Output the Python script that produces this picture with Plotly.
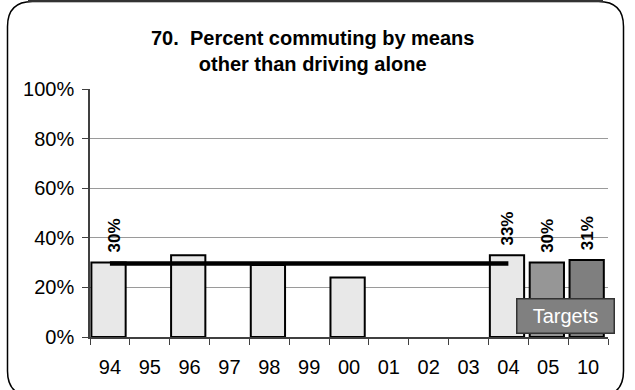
import plotly.graph_objects as go

years = ["94", "95", "96", "97", "98", "99", "00", "01", "02", "03", "04", "05", "10"]
actual = [30, None, 33, None, 29, None, 24, None, None, None, 33, None, None]
target_05 = [None] * 11 + [30, None]
target_10 = [None] * 12 + [31]
trend = [29.6, 29.6, 29.6, 29.6, 29.6, 29.6, 29.6, 29.6, 29.6, 29.6, 29.6, None, None]
label_years = ["94", "04", "05", "10"]
label_vals = [30, 33, 30, 31]
label_text = ["30%", "33%", "30%", "31%"]
title_text = "70.  Percent commuting by means<br>other than driving alone"
targets_text = "Targets"

W, H = 635, 390
L, R, T, B = 90, 27, 89, 53
PW, PH = W - L - R, H - T - B

def px(x):
    return (x - L) / PW

def py(y):
    return (H - B - y) / PH

FONT = "Liberation Sans, Arial, sans-serif"
fig = go.Figure()

bw, bo = 0.86, -0.465
fig.add_trace(go.Bar(x=years, y=actual, width=bw, offset=bo,
                     marker=dict(color="#e8e8e8", line=dict(color="#000000", width=2)),
                     showlegend=False, hoverinfo="skip"))
fig.add_trace(go.Bar(x=years, y=target_05, width=bw, offset=bo,
                     marker=dict(color="#969696", line=dict(color="#000000", width=2)),
                     showlegend=False, hoverinfo="skip"))
fig.add_trace(go.Bar(x=years, y=target_10, width=bw, offset=bo,
                     marker=dict(color="#7f7f7f", line=dict(color="#000000", width=2)),
                     showlegend=False, hoverinfo="skip"))
fig.add_trace(go.Scatter(x=years, y=trend, mode="lines",
                         line=dict(color="#000000", width=4.5),
                         showlegend=False, hoverinfo="skip"))

annotations = []
for i, (yr, v, t) in enumerate(zip(label_years, label_vals, label_text)):
    idx = years.index(yr)
    annotations.append(dict(x=idx, y=v, xref="x", yref="y", text="<b>" + t + "</b>",
                            textangle=-90, showarrow=False, yanchor="bottom",
                            xanchor="center", yshift=8, xshift=5 if i == 0 else -1,
                            font=dict(family=FONT, size=17, color="#000000")))

annotations.append(dict(x=px(312), y=py(51), xref="paper", yref="paper",
                        text="<b>" + title_text + "</b>", showarrow=False,
                        xanchor="center", yanchor="middle",
                        font=dict(family=FONT, size=20, color="#000000")))

annotations.append(dict(x=px(565), y=py(316), xref="paper", yref="paper",
                        text=targets_text, showarrow=False,
                        xanchor="center", yanchor="middle",
                        width=96, height=33, bgcolor="#808080",
                        bordercolor="#333333", borderwidth=1.5, borderpad=0,
                        font=dict(family=FONT, size=20, color="#ffffff")))

# rounded frame
x0, x1, y0, y1, r = 7.5, 623.5, 1.5, 396, 25
path = (f"M {px(x0)} {py(y0 + r)} "
        f"Q {px(x0)} {py(y0)} {px(x0 + r)} {py(y0)} "
        f"L {px(x1 - r)} {py(y0)} "
        f"Q {px(x1)} {py(y0)} {px(x1)} {py(y0 + r)} "
        f"L {px(x1)} {py(y1 - r)} "
        f"Q {px(x1)} {py(y1)} {px(x1 - r)} {py(y1)} "
        f"L {px(x0 + r)} {py(y1)} "
        f"Q {px(x0)} {py(y1)} {px(x0)} {py(y1 - r)} Z")
shapes = [
    dict(type="path", path=path, xref="paper", yref="paper",
         line=dict(color="#000000", width=1.5), layer="below"),
    dict(type="line", xref="paper", yref="paper", x0=px(28), x1=px(603),
         y0=py(0.8), y1=py(0.8), line=dict(color="#333333", width=2.5)),
]

fig.update_layout(
    width=W, height=H,
    margin=dict(l=L, r=R, t=T, b=B),
    paper_bgcolor="#ffffff", plot_bgcolor="#ffffff",
    barmode="overlay",
    annotations=annotations, shapes=shapes,
    font=dict(family=FONT, color="#000000"),
    xaxis=dict(type="category", categoryorder="array", categoryarray=years,
               range=[-0.5, 12.5], showgrid=False, ticks="outside", tickson="boundaries",
               ticklen=6, tickcolor="#404040", showline=True, linecolor="#404040", linewidth=1.5,
               tickfont=dict(family=FONT, size=20, color="#000000"), ticklabelstandoff=11),
    yaxis=dict(range=[0, 100], dtick=20, ticksuffix="%", showgrid=True,
               gridcolor="#9a9a9a", gridwidth=1, ticks="outside", ticklen=6,
               tickcolor="#404040", showline=True, linecolor="#404040", linewidth=1.5,
               zeroline=False,
               tickfont=dict(family=FONT, size=20, color="#000000"), ticklabelstandoff=4),
)

fig.write_html("out.html", config={"displayModeBar": False},
               post_script="document.body.style.margin='0px';")
